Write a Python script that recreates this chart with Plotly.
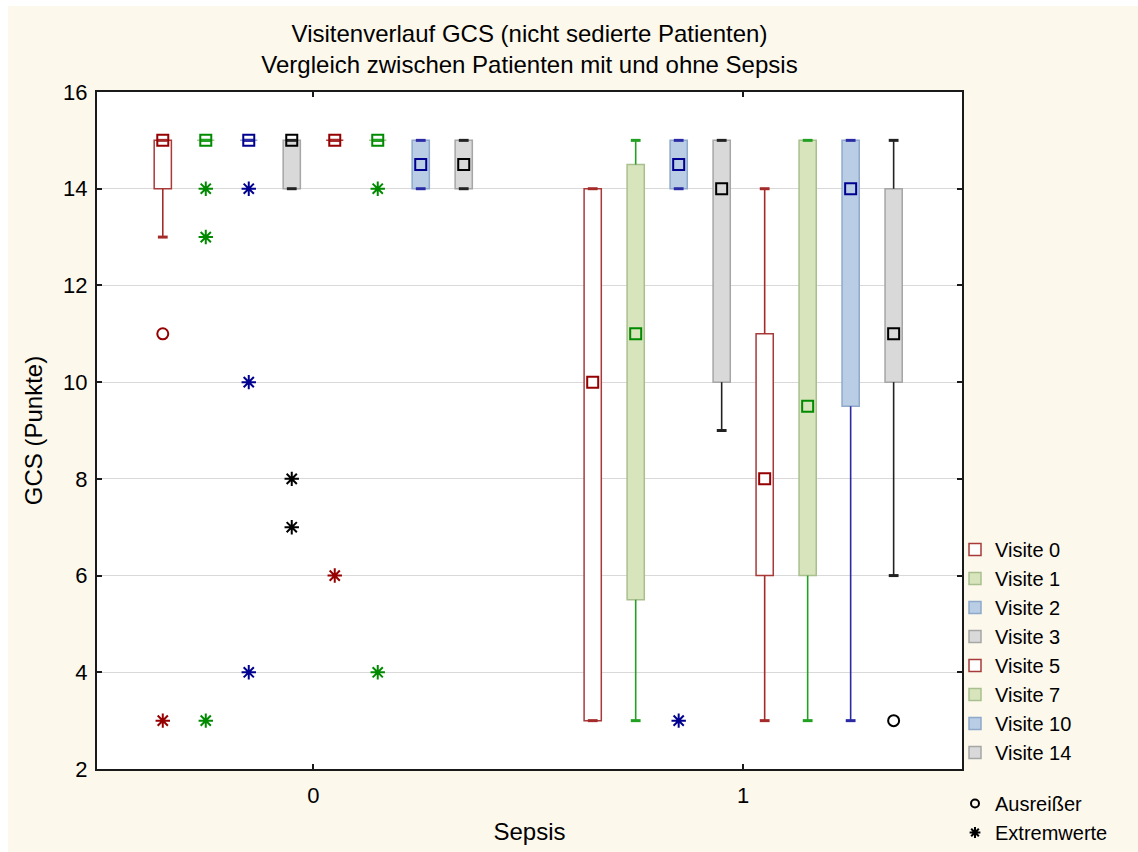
import plotly.graph_objects as go

# ---------------- data ----------------
visits = ["Visite 0", "Visite 1", "Visite 2", "Visite 3",
          "Visite 5", "Visite 7", "Visite 10", "Visite 14"]
sepsis_groups = [0, 1]
x_tick_labels = ["0", "1"]
y_ticks = [2, 4, 6, 8, 10, 12, 14, 16]

# Sepsis = 0
median_0 = [15, 15, 15, 15, 15, 15, 14.5, 14.5]
q1_0 = [14, 15, 15, 14, 15, 15, 14, 14]
q3_0 = [15, 15, 15, 15, 15, 15, 15, 15]
min_0 = [13, 15, 15, 14, 15, 15, 14, 14]
max_0 = [15, 15, 15, 15, 15, 15, 15, 15]
outliers_0 = [[11], [], [], [], [], [], [], []]
extremes_0 = [[3], [14, 13, 3], [14, 10, 4], [8, 7], [6], [14, 4], [], []]

# Sepsis = 1
median_1 = [10, 11, 14.5, 14, 8, 9.5, 14, 11]
q1_1 = [3, 5.5, 14, 10, 6, 6, 9.5, 10]
q3_1 = [14, 14.5, 15, 15, 11, 15, 15, 14]
min_1 = [3, 3, 14, 9, 3, 3, 3, 6]
max_1 = [14, 15, 15, 15, 14, 15, 15, 15]
outliers_1 = [[], [], [], [], [], [], [], [3]]
extremes_1 = [[], [], [3], [], [], [], [], []]

# ---------------- styles ----------------
offsets = [-0.35, -0.25, -0.15, -0.05, 0.05, 0.15, 0.25, 0.35]
BOX_W = 0.04
box_fill = ["#ffffff", "#d8e4bc", "#b9cde5", "#d9d9d9"] * 2
box_line = ["#a83a3a", "#a9c08e", "#8fa9cc", "#a6a6a6"] * 2
whisk_col = ["#a52a2a", "#22a022", "#2a2aa5", "#222222"] * 2
mark_col = ["#960000", "#008a00", "#000090", "#000000"] * 2
FONT = "Liberation Sans, Arial, sans-serif"

stats = {
    0: (median_0, q1_0, q3_0, min_0, max_0, outliers_0, extremes_0),
    1: (median_1, q1_1, q3_1, min_1, max_1, outliers_1, extremes_1),
}

fig = go.Figure()

# boxes (bars from Q1 to Q3)
for i, v in enumerate(visits):
    xs = [g + offsets[i] for g in sepsis_groups]
    bases = [stats[g][1][i] for g in sepsis_groups]
    heights = [stats[g][2][i] - stats[g][1][i] for g in sepsis_groups]
    fig.add_trace(go.Bar(
        x=xs, y=heights, base=bases, width=BOX_W, name=v,
        legendgroup="visits",
        marker=dict(color=box_fill[i], line=dict(color=box_line[i], width=1.5)),
        hoverinfo="skip", showlegend=True))

# whiskers, caps, medians, outliers, extremes
for i, v in enumerate(visits):
    wx, wy, cx, cy, mx, my, ox, oy, ex, ey = [], [], [], [], [], [], [], [], [], []
    for g in sepsis_groups:
        med, q1, q3, mn, mxv, outl, extr = stats[g]
        x = g + offsets[i]
        if mxv[i] > q3[i]:
            wx += [x, x, None]
            wy += [q3[i], mxv[i], None]
        if mn[i] < q1[i]:
            wx += [x, x, None]
            wy += [q1[i], mn[i], None]
        cx += [x, x]
        cy += [mxv[i], mn[i]]
        mx.append(x)
        my.append(med[i])
        for val in outl[i]:
            ox.append(x)
            oy.append(val)
        for val in extr[i]:
            ex.append(x)
            ey.append(val)
    if wx:
        fig.add_trace(go.Scatter(x=wx, y=wy, mode="lines",
                                 line=dict(color=whisk_col[i], width=1.6),
                                 showlegend=False, hoverinfo="skip"))
    fig.add_trace(go.Scatter(x=cx, y=cy, mode="markers",
                             marker=dict(symbol="line-ew-open", size=7,
                                         color=whisk_col[i],
                                         line=dict(color=whisk_col[i], width=3)),
                             showlegend=False, hoverinfo="skip"))
    fig.add_trace(go.Scatter(x=mx, y=my, mode="markers", name=v,
                             marker=dict(symbol="square-open", size=11,
                                         color=mark_col[i],
                                         line=dict(color=mark_col[i], width=2)),
                             showlegend=False))
    if ox:
        fig.add_trace(go.Scatter(x=ox, y=oy, mode="markers", name=v,
                                 marker=dict(symbol="circle-open", size=11,
                                             color=mark_col[i],
                                             line=dict(color=mark_col[i], width=2)),
                                 showlegend=False))
    if ex:
        fig.add_trace(go.Scatter(x=ex, y=ey, mode="markers", name=v,
                                 marker=dict(symbol="asterisk-open", size=12,
                                             color=mark_col[i],
                                             line=dict(color=mark_col[i], width=2)),
                                 showlegend=False))

# legend-only entries for outlier / extreme symbols
fig.add_trace(go.Scatter(x=[None], y=[None], mode="markers", name="Ausreißer",
                         legendgroup="sym",
                         marker=dict(symbol="circle-open", size=8, color="black",
                                     line=dict(color="black", width=2))))
fig.add_trace(go.Scatter(x=[None], y=[None], mode="markers", name="Extremwerte",
                         legendgroup="sym",
                         marker=dict(symbol="asterisk-open", size=9, color="black",
                                     line=dict(color="black", width=2))))

# white outer border strips (top / left) as in the reference
fig.add_shape(type="rect", xref="paper", yref="paper",
              x0=-0.2, x1=1.3, y0=(769 - 6) / 677, y1=1.3,
              fillcolor="white", line=dict(width=0), layer="below")
fig.add_shape(type="rect", xref="paper", yref="paper",
              x0=-0.2, x1=(8 - 97) / 865, y0=-0.5, y1=1.3,
              fillcolor="white", line=dict(width=0), layer="below")

fig.update_layout(
    width=1138, height=852,
    margin=dict(l=97, r=176, t=92, b=83, autoexpand=False),
    paper_bgcolor="#fdf8ec", plot_bgcolor="white",
    font=dict(family=FONT, size=22, color="black"),
    barmode="overlay",
    title=dict(text="Visitenverlauf GCS (nicht sedierte Patienten)<br>"
                    "Vergleich zwischen Patienten mit und ohne Sepsis",
               x=(97 + 865 / 2) / 1138, xanchor="center",
               y=1 - 42 / 852, yanchor="middle",
               font=dict(family=FONT, size=24, color="black")),
    legend=dict(x=(955 - 97) / 865, xanchor="left",
                y=(769 - 530) / 677, yanchor="top",
                bgcolor="rgba(0,0,0,0)", traceorder="grouped",
                tracegroupgap=22,
                font=dict(family=FONT, size=20, color="black")),
    xaxis=dict(range=[-0.503, 1.509], tickvals=sepsis_groups,
               ticktext=x_tick_labels, showgrid=False, zeroline=False,
               showline=True, linecolor="#1a1a1a", linewidth=2, mirror="ticks",
               ticks="inside", ticklen=5, tickwidth=2, tickcolor="#1a1a1a",
               tickfont=dict(size=22), ticklabelstandoff=6,
               title=dict(text="Sepsis", font=dict(size=24), standoff=16)),
    yaxis=dict(range=[2, 16], tickvals=y_ticks, showgrid=True,
               gridcolor="#d9d9d9", gridwidth=1, zeroline=False,
               showline=True, linecolor="#1a1a1a", linewidth=2, mirror="ticks",
               ticks="inside", ticklen=5, tickwidth=2, tickcolor="#1a1a1a",
               tickfont=dict(size=22), ticklabelstandoff=3,
               title=dict(text="GCS (Punkte)", font=dict(size=24), standoff=14)),
)

fig.write_html("out.html")
